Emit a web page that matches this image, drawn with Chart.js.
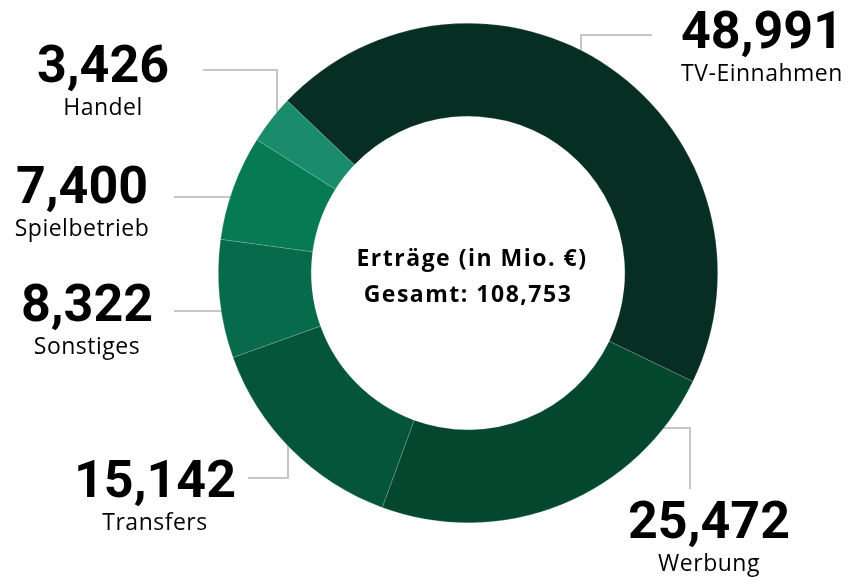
<!DOCTYPE html>
<html>
<head>
<meta charset="utf-8">
<script src="https://cdn.jsdelivr.net/npm/chart.js"></script>
<style>
  body { margin: 0; background: #fff; }
  #wrap { width: 853px; height: 586px; }
</style>
</head>
<body>
<div id="wrap"><canvas id="ertraegeChart" width="853" height="586"></canvas></div>
<script>
// Erträge (in Mio. €)
var categories = ["TV-Einnahmen", "Werbung", "Transfers", "Sonstiges", "Spielbetrieb", "Handel"];
var values = [48.991, 25.472, 15.142, 8.322, 7.400, 3.426];
var colors = ["#062e23", "#03472f", "#045539", "#076b4b", "#067a52", "#1a8c6b"];

// label anchor (center x, number baseline y) and leader lines, in canvas px
var labelPos = [
    [762, 48], [709, 538], [155, 497], [87, 321], [82, 203], [103, 82]
];
var leaderLines = [
    [[652, 35], [581, 35], [581, 70]],
    [[640, 428], [690, 428], [690, 489]],
    [[248, 478], [288, 478], [288, 430]],
    [[174, 311], [250, 311]],
    [[174, 197], [250, 197]],
    [[203, 70], [277, 70], [277, 130]]
];

function fmt(v) {
    return v.toFixed(3).replace(".", ",");
}

var total = values.reduce(function(a, b) { return a + b; }, 0);

var labelPlugin = {
    id: "labelPlugin",
    beforeDatasetsDraw: function(chart) {
        var ctx = chart.ctx;
        ctx.save();
        ctx.strokeStyle = "#c6c6c6";
        ctx.lineWidth = 2;
        leaderLines.forEach(function(pts) {
            ctx.beginPath();
            ctx.moveTo(pts[0][0], pts[0][1]);
            for (var i = 1; i < pts.length; i++) ctx.lineTo(pts[i][0], pts[i][1]);
            ctx.stroke();
        });
        ctx.restore();
    },
    afterDatasetsDraw: function(chart) {
        var ctx = chart.ctx;
        var meta = chart.getDatasetMeta(0);
        ctx.save();
        ctx.fillStyle = "#000";
        ctx.textAlign = "center";
        ctx.textBaseline = "alphabetic";
        meta.data.forEach(function(arc, i) {
            var p = labelPos[i];
            ctx.letterSpacing = "0px";
            ctx.font = "bold 52px Roboto";
            ctx.fillText(fmt(values[i]), p[0], p[1]);
            ctx.letterSpacing = "0.5px";
            ctx.font = "23px 'Open Sans'";
            ctx.fillText(categories[i], p[0], p[1] + 33);
        });
        var c = meta.data[0];
        ctx.letterSpacing = "1.5px";
        ctx.font = "bold 23px 'Open Sans'";
        ctx.fillText("Erträge (in Mio. €)", c.x + 4, 266);
        ctx.fillText("Gesamt: " + fmt(total), c.x, 302);
        ctx.restore();
    }
};

var data = {
    labels: categories,
    datasets: [
        {
            data: values,
            backgroundColor: colors,
            borderColor: "rgba(255,255,255,0.25)",
            borderWidth: 0.6,
            hoverOffset: 0
        }
    ]
};

var ctx = document.getElementById("ertraegeChart").getContext("2d");

var options = {
    responsive: false,
    animation: false,
    cutout: "62.8%",
    rotation: -46.4,
    layout: {
        padding: { left: 218, right: 135, top: 23, bottom: 63 }
    },
    plugins: {
        legend: { display: false },
        tooltip: { enabled: false }
    }
};

var ertraegeChart = new Chart(ctx, {
    type: "doughnut",
    data: data,
    options: options,
    plugins: [labelPlugin]
});
</script>
</body>
</html>
